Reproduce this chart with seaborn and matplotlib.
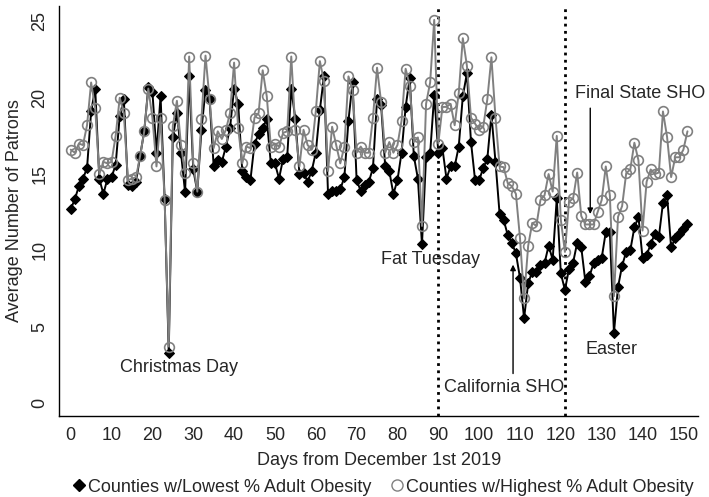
import numpy as np
import pandas as pd
import matplotlib
matplotlib.use("Agg")
import matplotlib.pyplot as plt
import seaborn as sns
from matplotlib.lines import Line2D

sns.set_style("white")
plt.rcParams['font.family'] = ['Liberation Sans', 'DejaVu Sans']

days = list(range(0, 152))

low_obesity = [
    12.7, 13.35, 14.2, 14.7, 15.4, 19.1, 20.6, 14.7, 13.7, 14.7,
    14.8, 15.6, 18.8, 19.9, 14.3, 14.2, 14.5, 16.2, 17.8, 20.7,
    20.4, 16.4, 20.1, 13.35, 3.3, 17.4, 19.0, 16.4, 13.8, 21.4,
    15.3, 13.85, 17.9, 20.5, 19.9, 15.5, 15.9, 15.8, 16.8, 18.0,
    20.6, 19.6, 15.2, 14.8, 14.6, 17.0, 17.6, 18.0, 18.6, 15.7,
    15.7, 14.7, 16.0, 16.1, 20.6, 18.6, 15.0, 15.1, 14.5, 15.2,
    16.4, 19.2, 21.4, 13.7, 13.9, 13.9, 14.0, 14.8, 18.5, 21.0,
    14.6, 13.9, 14.3, 14.5, 15.4, 19.9, 19.5, 15.5, 15.2, 13.7,
    14.6, 16.4, 19.4, 21.3, 16.2, 14.7, 10.4, 16.1, 16.35, 20.2,
    16.4, 16.7, 14.7, 15.5, 15.5, 16.8, 20.1, 21.6, 17.1, 14.6,
    14.6, 15.4, 16.0, 18.9, 15.8, 12.4, 12.0, 11.0, 10.5, 9.8,
    8.2, 5.55, 7.85, 8.6, 8.6, 9.05, 9.15, 10.3, 9.4, 13.4,
    8.5, 7.4, 8.8, 9.2, 10.5, 10.2, 7.95, 8.3, 9.15, 9.4,
    9.5, 11.2, 11.2, 4.6, 7.6, 9.0, 9.9, 10.0, 11.5, 12.2,
    9.5, 9.7, 10.4, 11.1, 10.9, 13.1, 13.6, 10.2, 10.8, 11.1,
    11.4, 11.7,
]

high_obesity = [
    16.6, 16.4, 17.0, 16.9, 18.2, 21.0, 19.3, 15.0, 15.8, 15.7,
    15.8, 17.5, 20.0, 19.0, 14.6, 14.7, 14.8, 16.2, 17.8, 20.6,
    18.7, 15.5, 18.7, 13.3, 3.7, 18.15, 19.8, 16.9, 15.05, 22.7,
    15.7, 13.85, 18.6, 22.76, 19.9, 16.7, 17.8, 17.3, 17.9, 19.0,
    22.3, 18.0, 15.7, 16.8, 16.7, 18.7, 19.0, 21.8, 20.1, 16.8,
    17.0, 16.8, 17.7, 17.8, 22.7, 17.9, 15.5, 17.9, 16.9, 16.6,
    19.1, 22.4, 21.1, 15.2, 18.1, 16.9, 15.7, 16.8, 21.4, 20.5,
    16.4, 16.8, 16.4, 16.4, 18.7, 21.97, 19.7, 16.4, 17.1, 16.4,
    16.9, 18.5, 21.9, 20.8, 17.1, 17.4, 11.6, 19.6, 21.0, 25.1,
    17.0, 19.4, 19.4, 19.6, 18.2, 20.3, 23.9, 22.1, 18.7, 18.3,
    17.9, 18.1, 19.9, 22.65, 18.7, 15.5, 15.45, 14.4, 14.2, 13.7,
    10.8, 6.85, 10.3, 11.8, 11.6, 13.3, 13.6, 15.0, 13.85, 17.5,
    12.0, 9.9, 13.2, 13.4, 15.1, 12.25, 11.7, 11.7, 11.7, 12.5,
    13.3, 15.5, 13.6, 7.0, 12.2, 12.9, 15.05, 15.3, 17.05, 15.9,
    11.3, 14.5, 15.3, 15.0, 15.1, 19.1, 17.45, 14.8, 16.1, 16.1,
    16.6, 17.8,
]

event_days = [90, 121]
x_ticks = list(range(0, 151, 10))
y_ticks = [0, 5, 10, 15, 20, 25]

series_labels = ["Counties w/Lowest % Adult Obesity", "Counties w/Highest % Adult Obesity"]

df = pd.DataFrame({"day": days, "low": low_obesity, "high": high_obesity})

fig = plt.figure(figsize=(7.09, 4.97), dpi=100)
ax = fig.add_axes([0.0836, 0.1636, 0.901, 0.824])

FS = 13
gray = "#808080"

sns.lineplot(data=df, x="day", y="low", ax=ax, color="black", linewidth=1.4,
             marker="D", markersize=5, markeredgecolor="black", markerfacecolor="black")
sns.lineplot(data=df, x="day", y="high", ax=ax, color=gray, linewidth=1.4,
             marker="o", markersize=7, markerfacecolor="none",
             markeredgecolor=gray, markeredgewidth=1.2)

for d in event_days:
    ax.axvline(d, color="black", linestyle=(0, (1, 1.6)), linewidth=2.0, zorder=1)

ax.set_xlim(-2.8, 153.6)
ax.set_ylim(-0.83, 26.0)
ax.set_xticks(x_ticks)
ax.set_yticks(y_ticks)
ax.set_xticklabels([str(t) for t in x_ticks], fontsize=FS)
ax.set_yticklabels([str(t) for t in y_ticks], fontsize=FS, rotation=90, va="center")
ax.tick_params(axis="both", direction="out", length=5, width=1, color="black", pad=3)
for s in ["top", "right"]:
    ax.spines[s].set_visible(False)
for s in ["left", "bottom"]:
    ax.spines[s].set_color("black")
    ax.spines[s].set_linewidth(1.0)

ax.set_xlabel("Days from December 1st 2019", fontsize=FS, labelpad=6)
ax.set_ylabel("Average Number of Patrons", fontsize=FS, labelpad=6)

ax.text(26.5, 2.3, "Christmas Day", fontsize=FS, ha="center", va="center")
ax.text(100.2, 9.4, "Fat Tuesday", fontsize=FS, ha="right", va="center")
ax.text(106.0, 1.0, "California SHO", fontsize=FS, ha="center", va="center")
ax.annotate("", xy=(108.3, 9.25), xytext=(108.3, 1.75),
            arrowprops=dict(arrowstyle="-|>", color="black", lw=1.0, mutation_scale=8))
ax.text(123.5, 20.25, "Final State SHO", fontsize=FS, ha="left", va="center")
ax.annotate("", xy=(127.2, 12.2), xytext=(127.2, 19.5),
            arrowprops=dict(arrowstyle="-|>", color="black", lw=1.0, mutation_scale=8))
ax.text(132.5, 3.5, "Easter", fontsize=FS, ha="center", va="center")

handles = [
    Line2D([], [], marker="D", color="black", linestyle="none", markersize=6),
    Line2D([], [], marker="o", color=gray, markerfacecolor="none", linestyle="none",
           markersize=8, markeredgewidth=1.0),
]
fig.legend(handles, series_labels, loc="center", bbox_to_anchor=(0.54, 1 - 487 / 497),
           ncol=2, frameon=False, fontsize=FS, handletextpad=0.1, columnspacing=1.0,
           handlelength=0.8, borderaxespad=0)

fig.savefig("out.png", dpi=100)
